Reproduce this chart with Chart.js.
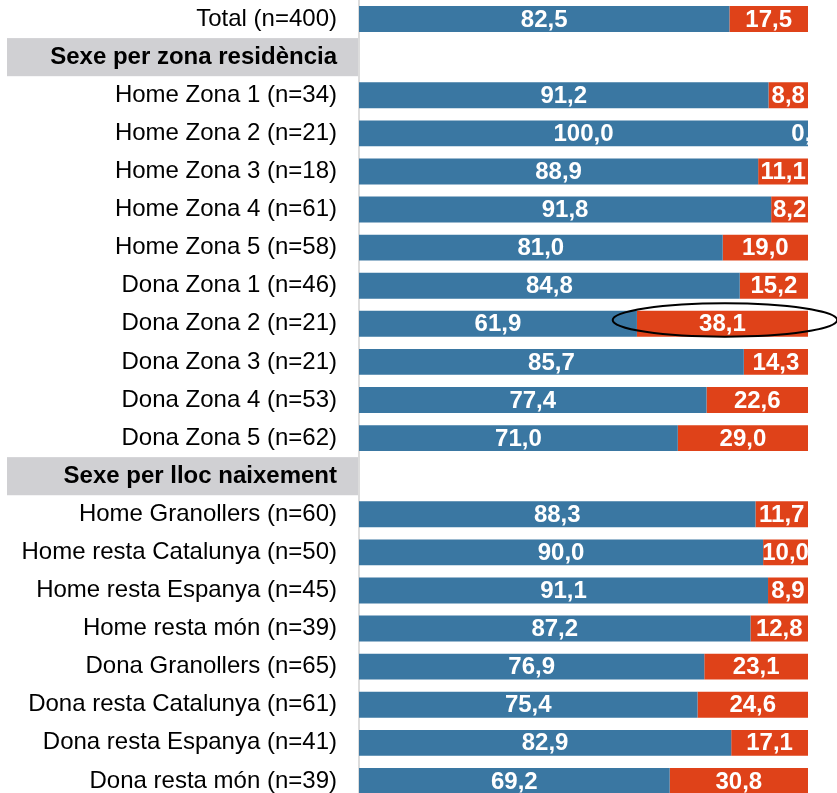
<!DOCTYPE html>
<html>
<head>
<meta charset="utf-8">
<script src="https://cdn.jsdelivr.net/npm/chart.js@4/dist/chart.umd.min.js"></script>
<style>
html,body{margin:0;padding:0;background:#fff;overflow:hidden;}
#wrap{position:relative;width:837px;height:800px;}
</style>
</head>
<body>
<div id="wrap"><canvas id="c"></canvas></div>
<script>
const categories = [
  "Total (n=400)",
  "Sexe per zona residència",
  "Home Zona 1 (n=34)",
  "Home Zona 2 (n=21)",
  "Home Zona 3 (n=18)",
  "Home Zona 4 (n=61)",
  "Home Zona 5 (n=58)",
  "Dona Zona 1 (n=46)",
  "Dona Zona 2 (n=21)",
  "Dona Zona 3 (n=21)",
  "Dona Zona 4 (n=53)",
  "Dona Zona 5 (n=62)",
  "Sexe per lloc naixement",
  "Home Granollers (n=60)",
  "Home resta Catalunya (n=50)",
  "Home resta Espanya (n=45)",
  "Home resta món (n=39)",
  "Dona Granollers (n=65)",
  "Dona resta Catalunya (n=61)",
  "Dona resta Espanya (n=41)",
  "Dona resta món (n=39)"
];
const headerRows = [1, 12];
const seriesBlue = [82.5, null, 91.2, 100.0, 88.9, 91.8, 81.0, 84.8, 61.9, 85.7, 77.4, 71.0, null, 88.3, 90.0, 91.1, 87.2, 76.9, 75.4, 82.9, 69.2];
const seriesRed  = [17.5, null, 8.8, 0.0, 11.1, 8.2, 19.0, 15.2, 38.1, 14.3, 22.6, 29.0, null, 11.7, 10.0, 8.9, 12.8, 23.1, 24.6, 17.1, 30.8];
const highlightRow = 8;

const FONT = '"Liberation Sans", Arial, sans-serif';
const FS = 24;
const fmt = v => v.toFixed(1).replace('.', ',');

const headerBoxes = {
  id: 'headerBoxes',
  beforeDraw(chart) {
    const ys = chart.scales.y, ctx = chart.ctx;
    const pitch = ys.getPixelForValue(1) - ys.getPixelForValue(0);
    ctx.save();
    ctx.fillStyle = '#d0d0d3';
    headerRows.forEach(i => {
      const cy = ys.getPixelForValue(i);
      ctx.fillRect(7, cy - pitch / 2, chart.chartArea.left - 8, pitch);
    });
    ctx.restore();
  }
};

const valueLabels = {
  id: 'valueLabels',
  afterDatasetsDraw(chart) {
    const ctx = chart.ctx, a = chart.chartArea;
    ctx.save();
    ctx.beginPath();
    ctx.rect(a.left, a.top, a.right - a.left, a.bottom - a.top);
    ctx.clip();
    ctx.fillStyle = '#ffffff';
    ctx.font = 'bold ' + FS + 'px ' + FONT;
    ctx.textAlign = 'center';
    ctx.textBaseline = 'middle';
    chart.data.datasets.forEach((ds, di) => {
      const meta = chart.getDatasetMeta(di);
      meta.data.forEach((bar, i) => {
        const v = ds.data[i];
        if (v == null) return;
        const p = bar.getProps(['x', 'base', 'y'], true);
        ctx.fillText(fmt(v), (p.x + p.base) / 2, p.y + 1);
      });
    });
    ctx.restore();
  }
};

const highlight = {
  id: 'highlight',
  afterDraw(chart) {
    const xs = chart.scales.x, ys = chart.scales.y, ctx = chart.ctx;
    const pitch = ys.getPixelForValue(1) - ys.getPixelForValue(0);
    const x1 = xs.getPixelForValue(56.5), x2 = xs.getPixelForValue(106.5);
    const cy = ys.getPixelForValue(highlightRow) - 0.1 * pitch;
    ctx.save();
    ctx.strokeStyle = '#000';
    ctx.lineWidth = 2;
    ctx.beginPath();
    ctx.ellipse((x1 + x2) / 2, cy, (x2 - x1) / 2, 0.44 * pitch, 0, 0, Math.PI * 2);
    ctx.stroke();
    ctx.restore();
  }
};

new Chart(document.getElementById('c'), {
  type: 'bar',
  data: {
    labels: categories,
    datasets: [
      { label: 'A', data: seriesBlue, backgroundColor: '#3a77a2', borderWidth: 0 },
      { label: 'B', data: seriesRed, backgroundColor: '#df4219', borderWidth: 0 }
    ]
  },
  options: {
    indexAxis: 'y',
    responsive: true,
    maintainAspectRatio: false,
    animation: false,
    events: [],
    datasets: { bar: { barPercentage: 0.68, categoryPercentage: 1 } },
    layout: { padding: { left: 0, right: 29, top: 0, bottom: 0 } },
    plugins: { legend: { display: false }, tooltip: { enabled: false } },
    scales: {
      x: { stacked: true, min: 0, max: 100, display: false },
      y: {
        stacked: true,
        afterFit(s) { s.width = 359; s.paddingTop = 0; s.paddingBottom = 0; },
        grid: { display: false, drawTicks: false },
        border: { display: true, color: '#dcdcdc', width: 2 },
        ticks: {
          autoSkip: false,
          padding: 22,
          color: '#000',
          font: ctx => ({ family: FONT, size: FS, weight: headerRows.includes(ctx.index) ? 'bold' : 'normal' })
        }
      }
    }
  },
  plugins: [headerBoxes, valueLabels, highlight]
});
</script>
</body>
</html>
